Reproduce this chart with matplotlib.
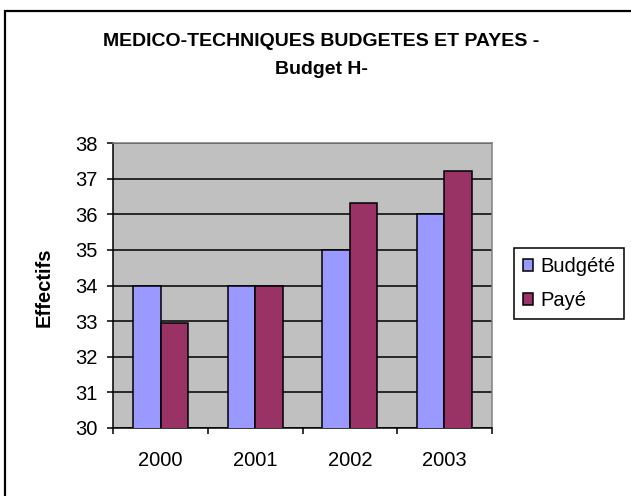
import matplotlib
matplotlib.use("Agg")
import matplotlib.pyplot as plt
import numpy as np
from matplotlib.patches import Rectangle, Patch

# données
years = ["2000", "2001", "2002", "2003"]
budgete = [34, 34, 35, 36]
paye = [32.95, 34, 36.33, 37.23]

plt.rcParams["font.family"] = ["Liberation Sans", "DejaVu Sans"]

fig = plt.figure(figsize=(6.31, 4.96), dpi=100)
W, H = 631, 496
FS = 14.5

# cadre du graphique (coupé à droite et en bas)
fig.patches.append(Rectangle((5 / W, -0.5), 2, 1.5 - 11 / H, transform=fig.transFigure,
                             fill=False, ec="black", lw=1.6, clip_on=False))

ax = fig.add_axes([113.3 / W, 1 - 427.7 / H, (491.7 - 113.3) / W, (427.7 - 143.3) / H])
ax.set_facecolor("#C0C0C0")

x = np.arange(len(years))
w = 0.29
ax.bar(x - w / 2, budgete, w, color="#9999FF", edgecolor="black", lw=1.1, zorder=3)
ax.bar(x + w / 2, paye, w, color="#993366", edgecolor="black", lw=1.1, zorder=3)

ax.set_ylim(30, 38)
ax.set_xlim(-0.5, len(years) - 0.5)
ax.set_yticks(range(30, 39))
ax.yaxis.grid(True, color="black", lw=1.1, zorder=1)
ax.set_axisbelow(True)

ax.set_xticks(x)
ax.set_xticklabels(years)
ax.set_xticks(np.arange(-0.5, len(years)), minor=True)
ax.tick_params(axis="x", which="major", length=0, pad=17, labelsize=FS)
ax.tick_params(axis="x", which="minor", direction="out", length=4, width=1.1)
ax.tick_params(axis="y", direction="out", length=4.5, width=1.1, pad=7, labelsize=FS)

for s in ["left", "bottom"]:
    ax.spines[s].set_color("black")
    ax.spines[s].set_linewidth(1.1)
for s in ["top", "right"]:
    ax.spines[s].set_color("#808080")
    ax.spines[s].set_linewidth(1.1)

fig.text(44 / W, 1 - 287 / H, "Effectifs", rotation=90, fontsize=FS, fontweight="bold",
         ha="center", va="center")

fig.text(321 / W, 1 - 42 / H, "MEDICO-TECHNIQUES BUDGETES ET PAYES -", fontsize=14,
         fontweight="bold", ha="center", va="center")
fig.text(321 / W, 1 - 69 / H, "Budget H-", fontsize=14, fontweight="bold",
         ha="center", va="center")

handles = [Patch(facecolor="#9999FF", edgecolor="black", lw=1.1),
           Patch(facecolor="#993366", edgecolor="black", lw=1.1)]
leg = fig.legend(handles, ["Budgété", "Payé"], loc="center left",
                 bbox_to_anchor=(514 / W, 1 - 283.5 / H), fontsize=FS,
                 handlelength=0.5, handleheight=0.5, handletextpad=0.35,
                 borderpad=0.45, labelspacing=0.75, fancybox=False,
                 edgecolor="black", framealpha=1, borderaxespad=0)
leg.get_frame().set_linewidth(1.1)

fig.savefig("out.png", dpi=100)
